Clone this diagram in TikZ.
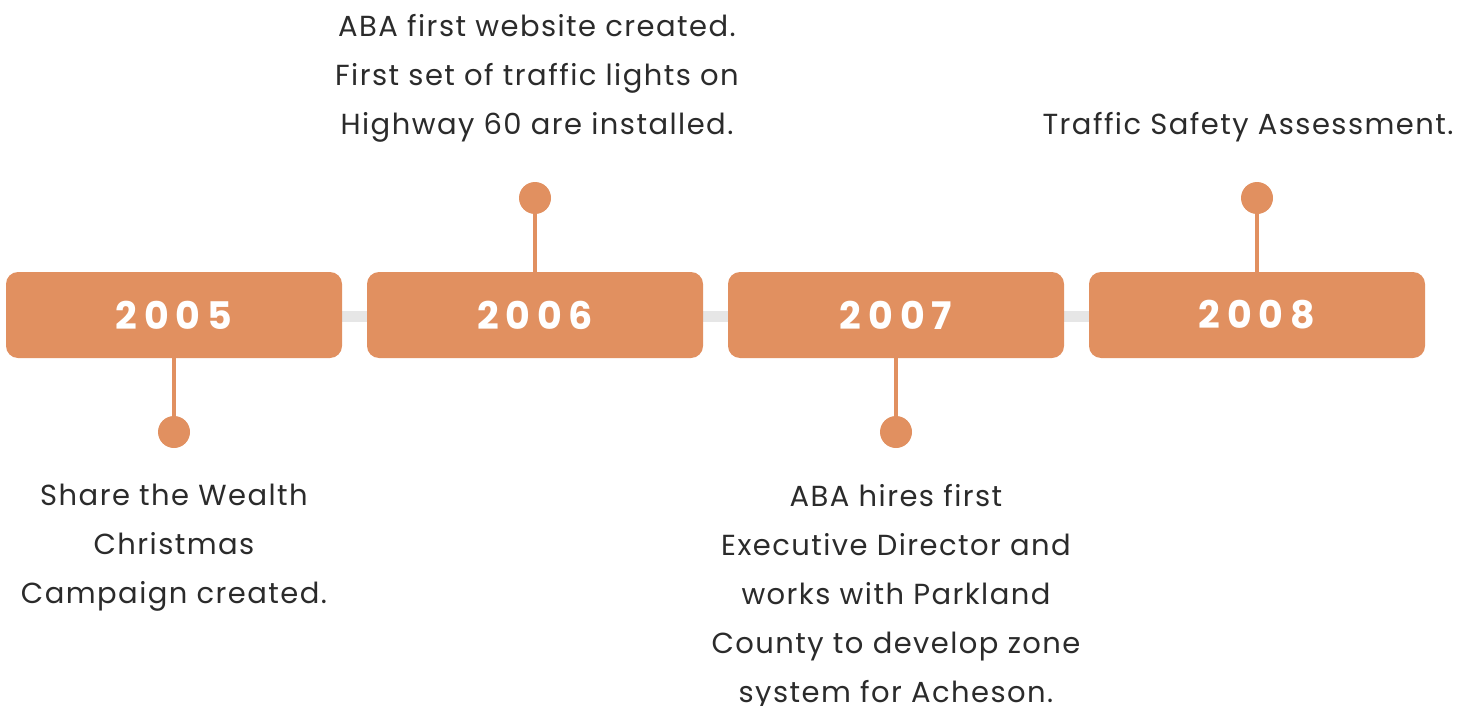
\documentclass[tikz,border=0pt]{standalone}
\usepackage{fontspec}
\setmainfont{Poppins}[LetterSpace=5]
\newfontfamily\yearfont[LetterSpace=18]{Poppins Bold}
\definecolor{accent}{HTML}{E19060}
\definecolor{ink}{HTML}{2B2B2B}
\definecolor{track}{HTML}{E6E6E6}
\tikzset{
  yearbox/.style={fill=accent, rounded corners=12pt, minimum width=336pt, minimum height=86pt, inner sep=0pt, text=white, font=\yearfont\fontsize{38}{40}\selectfont},
  stem/.style={draw=accent, line width=4pt},
  dot/.style={circle, fill=accent, minimum size=32pt, inner sep=0pt},
  desc/.style={text=ink, align=center, font=\fontsize{29}{49}\selectfont, inner sep=0pt},
}
\begin{document}
\begin{tikzpicture}[x=1pt,y=-1pt]
\useasboundingbox (0,0) rectangle (1472,706);
\draw[track, line width=11pt] (174,316) -- (1257,316);
\node[yearbox] (y5) at (174,315) {2005};
\node[yearbox] (y6) at (535,315) {2006};
\node[yearbox] (y7) at (896,315) {2007};
\node[yearbox] (y8) at (1257,315) {2008};
\node[dot] (d5) at (174,432) {};
\node[dot] (d6) at (535,198) {};
\node[dot] (d7) at (896,432) {};
\node[dot] (d8) at (1257,198) {};
\draw[stem] (y5.south) -- (d5.center);
\draw[stem] (y6.north) -- (d6.center);
\draw[stem] (y7.south) -- (d7.center);
\draw[stem] (y8.north) -- (d8.center);
\node[desc] (t5) at (174,548) {Share the Wealth\\Christmas\\Campaign created.};
\node[desc] (t6) at (537,78) {ABA first website created.\\First set of traffic lights on\\Highway 60 are installed.};
\node[desc] (t7) at (896,597) {ABA hires first\\Executive Director and\\works with Parkland\\County to develop zone\\system for Acheson.};
\node[desc] (t8) at (1248,127) {Traffic Safety Assessment.};
\end{tikzpicture}
\end{document}
